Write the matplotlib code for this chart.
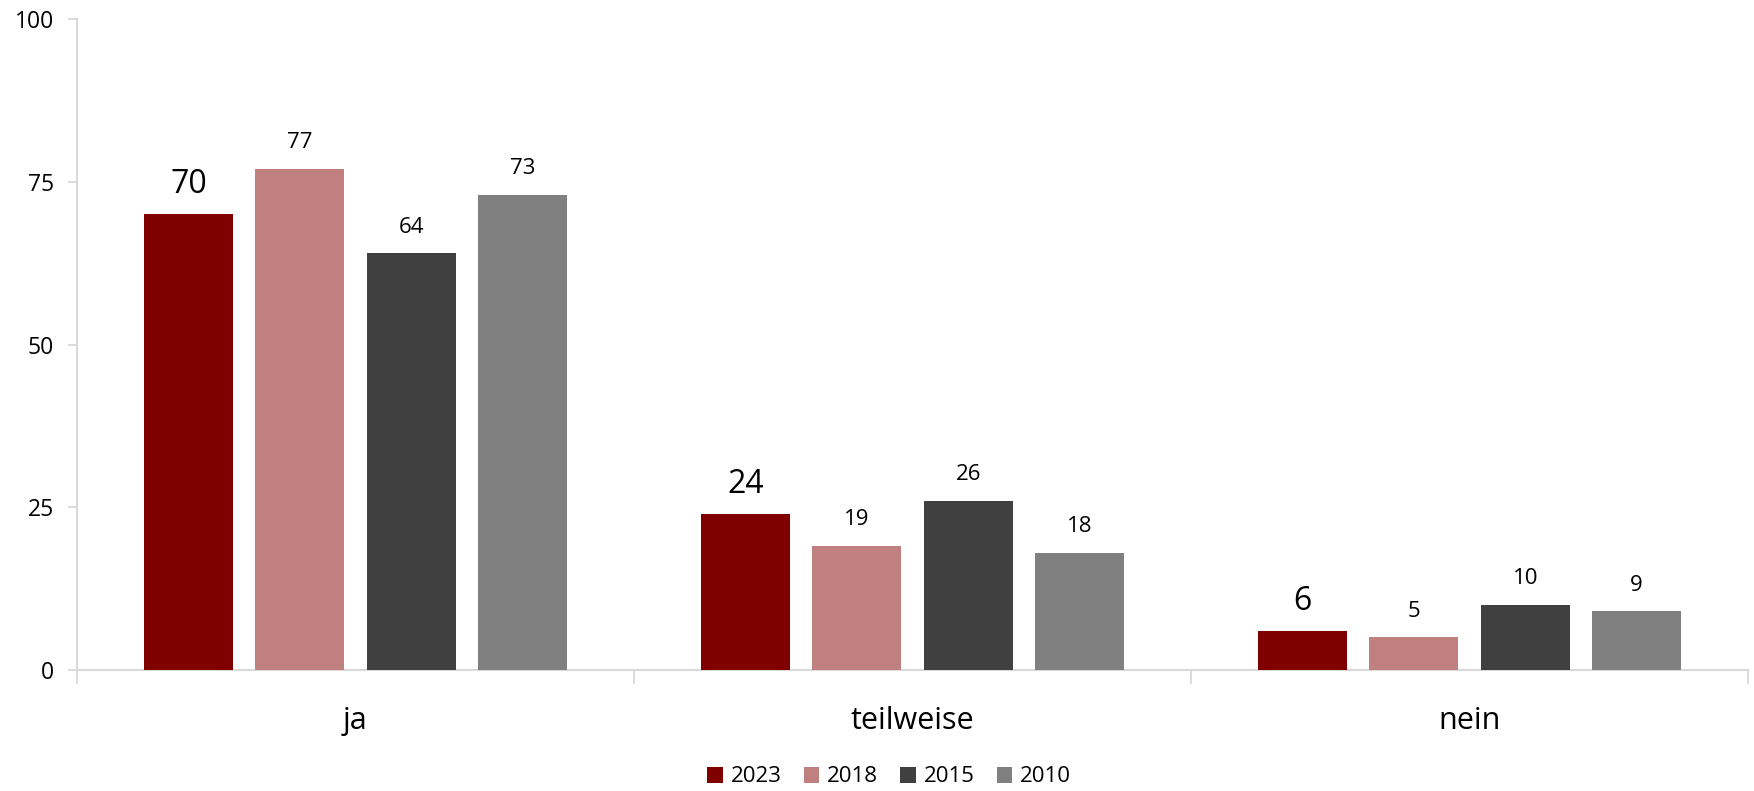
import matplotlib
matplotlib.use("Agg")
import matplotlib.pyplot as plt
import numpy as np

plt.rcParams['font.family'] = ['Open Sans', 'DejaVu Sans']

categories = ["ja", "teilweise", "nein"]
series_names = ["2023", "2018", "2015", "2010"]
values_2023 = [70, 24, 6]
values_2018 = [77, 19, 5]
values_2015 = [64, 26, 10]
values_2010 = [73, 18, 9]
colors = ["#800000", "#C08080", "#404040", "#808080"]
yticks = [0, 25, 50, 75, 100]

all_values = [values_2023, values_2018, values_2015, values_2010]

fig = plt.figure(figsize=(17.54, 7.91), dpi=100)
ax = fig.add_axes([77/1754, 1-670/791, (1748-77)/1754, (670-19)/791])

x = np.arange(len(categories))
bw = 0.16
step = 0.2
for i, (name, vals, col) in enumerate(zip(series_names, all_values, colors)):
    pos = x + (i - 1.5) * step
    ax.bar(pos, vals, width=bw, color=col, label=name, zorder=3)
    fs = 23 if i == 0 else 16
    for p, v in zip(pos, vals):
        ax.annotate(str(v), (p, v), xytext=(0, 15), textcoords="offset points",
                    ha="center", va="baseline", fontsize=fs, color="black")

ax.set_xlim(-0.5, len(categories) - 0.5)
ax.set_ylim(0, 100)
ax.set_yticks(yticks)
ax.set_yticklabels([str(t) for t in yticks], fontsize=16.5)

ax.set_xticks(np.arange(-0.5, len(categories), 1.0))
ax.set_xticklabels([])
ax.set_xticks(x, minor=True)
ax.set_xticklabels(categories, minor=True, fontsize=22)
ax.tick_params(axis="x", which="major", length=10, width=1.3, color="#d9d9d9", direction="out")
ax.tick_params(axis="x", which="minor", length=0, pad=26)
ax.tick_params(axis="y", length=6.5, width=1.3, color="#d9d9d9", pad=10)

for s in ["top", "right"]:
    ax.spines[s].set_visible(False)
for s in ["left", "bottom"]:
    ax.spines[s].set_color("#d9d9d9")
    ax.spines[s].set_linewidth(1.5)

leg = fig.legend(loc="center", bbox_to_anchor=(0.507, 1 - 777/791), ncol=4, frameon=False,
                 fontsize=16, handlelength=0.7, handleheight=0.7, handletextpad=0.35,
                 columnspacing=1.0)

fig.savefig("out.png", dpi=100)
